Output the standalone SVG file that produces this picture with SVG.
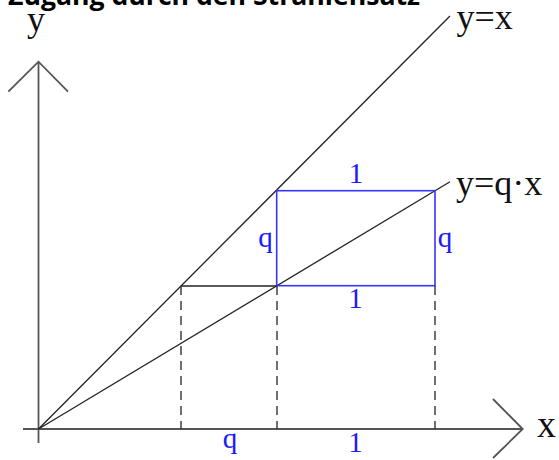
<svg xmlns="http://www.w3.org/2000/svg" width="559" height="460" viewBox="0 0 559 460">
  <style>
    .title { font-family: "Open Sans", "Liberation Sans", sans-serif; font-weight: bold; font-size: 26px; fill: #000; }
    .lbl { font-family: "Liberation Serif", "Times New Roman", serif; font-size: 36px; fill: #111; }
    .blbl { font-family: "Liberation Serif", "Times New Roman", serif; font-size: 29px; fill: #1a1aff; text-anchor: middle; }
    .axis { stroke: #555; stroke-width: 1.8; fill: none; }
    .line { stroke: #222; stroke-width: 1.3; fill: none; }
    .dash { stroke: #333; stroke-width: 1.4; stroke-dasharray: 9 6; fill: none; }
    .blue { stroke: #3535ff; stroke-width: 1.6; fill: none; }
  </style>
  <rect width="559" height="460" fill="#fff"/>
  <text class="title" x="8" y="5" textLength="412" lengthAdjust="spacingAndGlyphs">Zugang durch den Strahlensatz</text>

  <g id="axes">
    <line class="axis" x1="23" y1="429" x2="522.7" y2="429"/>
    <polyline class="axis" points="493,399 522.7,429 493,458"/>
    <line class="axis" x1="38.5" y1="443" x2="38.5" y2="61.7"/>
    <polyline class="axis" points="8.3,91.7 38.5,61.7 68,91.7"/>
    <text class="lbl" x="27" y="31">y</text>
    <text class="lbl" x="537" y="437" style="font-size:38px">x</text>
  </g>

  <g id="line-y-x">
    <line class="line" x1="38.5" y1="429" x2="450" y2="16"/>
    <text class="lbl" x="456.5" y="28.5">y=x</text>
  </g>

  <g id="line-y-qx">
    <line class="line" x1="38.5" y1="429" x2="450" y2="181.7"/>
    <text class="lbl" x="456" y="195">y=q·x</text>
  </g>

  <g id="rectangle">
    <rect class="blue" x="276.7" y="190.7" width="158.3" height="95"/>
    <text class="blbl" x="356" y="183">1</text>
    <text class="blbl" x="265.5" y="246.5">q</text>
    <text class="blbl" x="445" y="246.5">q</text>
    <text class="blbl" x="355.5" y="308">1</text>
  </g>

  <g id="connectors">
    <line class="line" x1="180.7" y1="286" x2="276.7" y2="286"/>
    <line class="dash" x1="181" y1="286" x2="181" y2="429"/>
    <line class="dash" x1="277" y1="286" x2="277" y2="429"/>
    <line class="dash" x1="435" y1="286" x2="435" y2="429"/>
  </g>

  <g id="axis-labels">
    <text class="blbl" x="230" y="448">q</text>
    <text class="blbl" x="355.5" y="451.5">1</text>
  </g>
</svg>
